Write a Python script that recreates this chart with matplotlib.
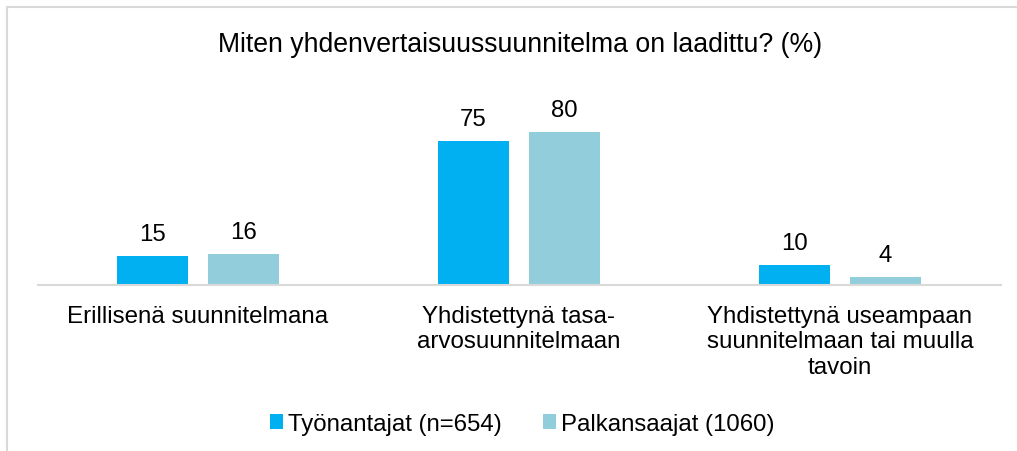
import numpy as np
import matplotlib.pyplot as plt
from matplotlib.patches import Rectangle

categories = ["Erillisenä suunnitelmana",
              "Yhdistettynä tasa-\narvosuunnitelmaan",
              "Yhdistettynä useampaan\nsuunnitelmaan tai muulla\ntavoin"]
series_names = ["Työnantajat (n=654)", "Palkansaajat (1060)"]
tyonantajat = [15, 75, 10]
palkansaajat = [16, 80, 4]
colors = ["#00B0F0", "#92CDDC"]

plt.rcParams['font.family'] = ['Liberation Sans', 'DejaVu Sans']

W, H = 1017, 452
fig = plt.figure(figsize=(W / 100, H / 100), dpi=100)
ax = fig.add_axes([37.5 / W, (H - 285.5) / H, 963 / W, 185.5 / H])

x = np.arange(len(categories))
width = 0.221
gap = 0.062
for i, (vals, name) in enumerate(zip([tyonantajat, palkansaajat], series_names)):
    offset = (i - 0.5) * (width + gap)
    bars = ax.bar(x + offset, vals, width, color=colors[i], label=name)
    for b, v in zip(bars, vals):
        ax.annotate(str(v), (b.get_x() + b.get_width() / 2, v),
                    xytext=(0, 11.5), textcoords='offset points',
                    ha='center', va='baseline', fontsize=17.3)

ax.set_xlim(-0.5, 2.5)
ax.set_ylim(0, 97)
ax.set_yticks([])
ax.set_xticks(x)
ax.set_xticklabels(categories, fontsize=17.4, linespacing=1.22)
ax.tick_params(axis='x', length=0, pad=14.5)
for s in ['top', 'right', 'left']:
    ax.spines[s].set_visible(False)
ax.spines['bottom'].set_color('#D9D9D9')
ax.spines['bottom'].set_linewidth(1.5)

fig.text(520 / W, 1 - 45 / H, "Miten yhdenvertaisuussuunnitelma on laadittu? (%)",
         ha='center', va='center', fontsize=19.2)

fig.legend(loc='center', bbox_to_anchor=(522 / W, 1 - 425 / H), ncol=2,
           frameon=False, fontsize=17.3, handlelength=0.55, handleheight=0.55,
           handletextpad=0.2, columnspacing=1.7)

fig.patches.append(Rectangle((7 / W, -0.1), 1.2, 1.1 - 8 / H, transform=fig.transFigure,
                             fill=False, edgecolor='#D9D9D9', linewidth=1.5))

fig.savefig("out.png", dpi=100)
